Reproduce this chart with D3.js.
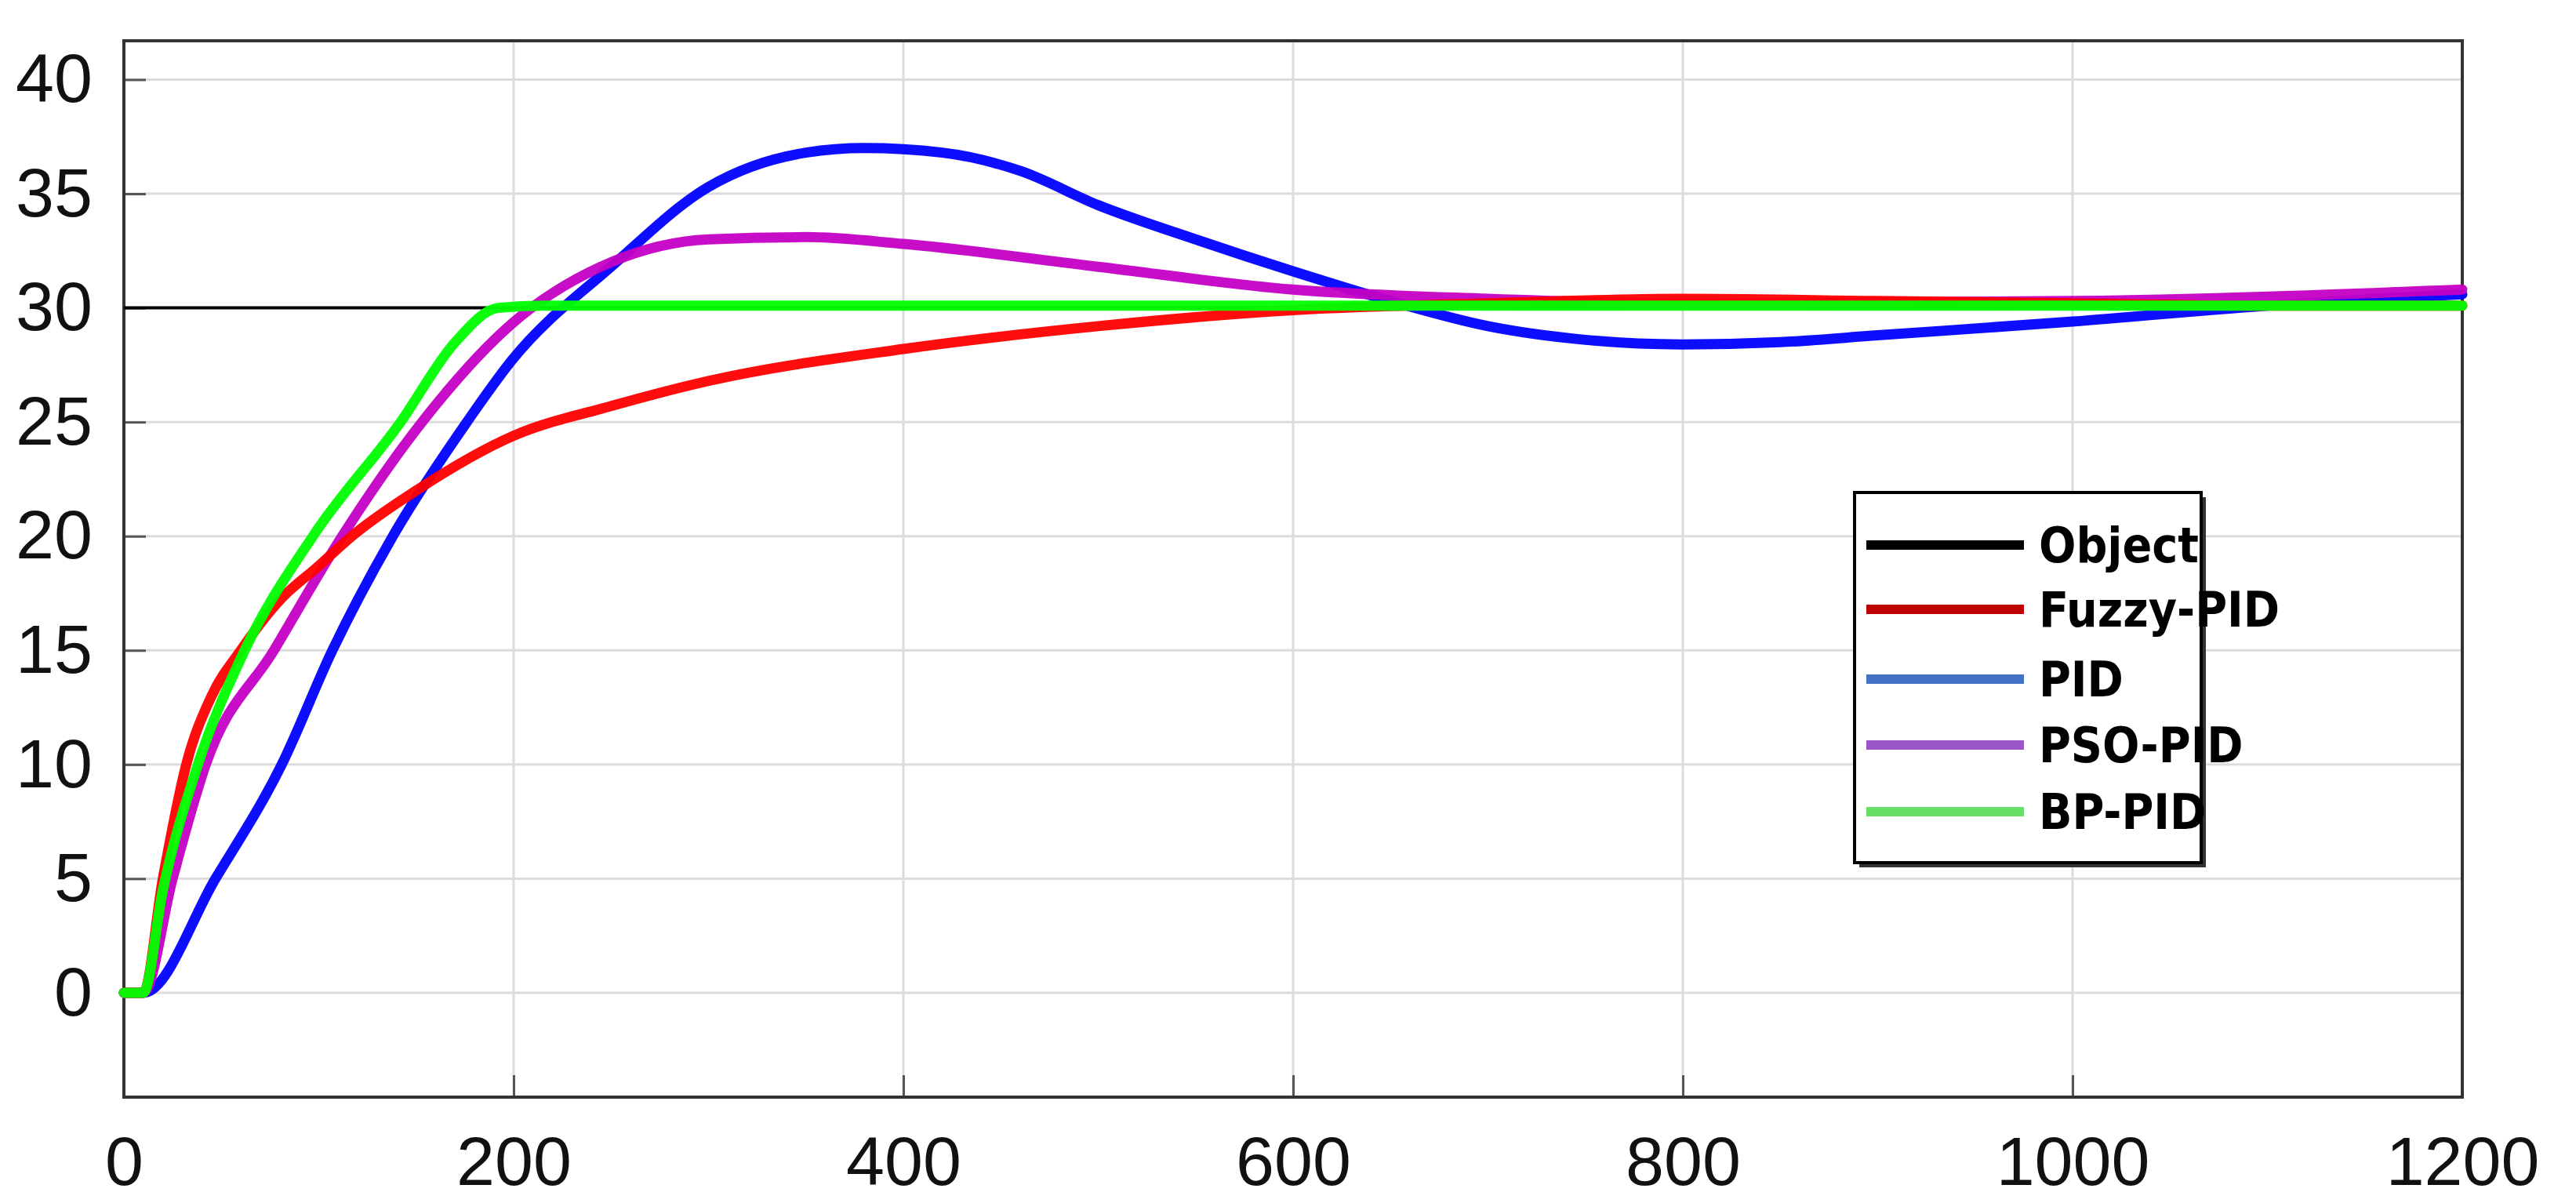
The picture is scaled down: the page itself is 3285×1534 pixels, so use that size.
<!DOCTYPE html>
<html><head><meta charset="utf-8">
<script src="https://cdn.jsdelivr.net/npm/d3@7"></script>
<style>body{margin:0;background:#fff}</style></head>
<body><svg id="c" width="3285" height="1534"></svg>
<script>
const xTicks=[0,200,400,600,800,1000,1200];
const yTicks=[0,5,10,15,20,25,30,35,40];
const objectRef=[[0,30],[1200,30]];
const fuzzyPID=[[0,0],[10,0],[20,5],[32,10],[45,13],[60,15],[80,17.2],[100,18.7],[117,20],[150,22],[200,24.4],[250,25.7],[300,26.8],[400,28.2],[500,29.2],[600,29.9],[700,30.2],[800,30.4],[900,30.3],[1000,30.2],[1100,30.1],[1200,30.1]];
const pid=[[0,0],[10,0],[47,5],[81,10],[107,15],[138,20],[176,25],[199,27.7],[250,31.8],[300,35.3],[350,36.8],[380,37],[420,36.8],[460,36],[500,34.5],[550,33],[600,31.6],[650,30.3],[700,29.2],[750,28.6],[800,28.4],[850,28.5],[900,28.8],[1000,29.4],[1100,30.1],[1200,30.6]];
const psoPID=[[0,0],[10,0],[25,5],[42,10],[77,15],[112,20],[153,25],[199,29.3],[250,32],[300,33],[350,33.1],[400,32.8],[500,31.8],[600,30.8],[700,30.4],[800,30.2],[1000,30.3],[1200,30.8]];
const bpPID=[[0,0],[10,0],[20,4.5],[38,10],[62,15],[97,20],[142,25],[170,28.5],[192,30],[215,30.1],[400,30.1],[800,30.1],[1200,30.1]];
const legendNames=["Object","Fuzzy-PID","PID","PSO-PID","BP-PID"];
const legendColors=["#000000","#c00000","#4472c4","#9b55c8","#66e066"];

const svg=d3.select("#c");
const L=158,R=3140,T=52,B=1399;
const x=d3.scaleLinear().domain([0,1200]).range([L,R]);
const y=d3.scaleLinear().domain([-4.57,41.7]).range([B,T]);
const g=svg.append("g");
g.selectAll(".gx").data(xTicks).join("line").attr("x1",d=>x(d)).attr("x2",d=>x(d)).attr("y1",T).attr("y2",B).attr("stroke","#dcdcdc").attr("stroke-width",3);
g.selectAll(".gy").data(yTicks).join("line").attr("y1",d=>y(d)).attr("y2",d=>y(d)).attr("x1",L).attr("x2",R).attr("stroke","#dcdcdc").attr("stroke-width",3);
const xa=svg.append("g").attr("transform",`translate(0,${B})`).call(d3.axisBottom(x).tickValues(xTicks).tickSize(-28).tickPadding(50).tickFormat(d3.format("d")));
const ya=svg.append("g").attr("transform",`translate(${L},0)`).call(d3.axisLeft(y).tickValues(yTicks).tickSize(-28).tickPadding(40));
[xa,ya].forEach(a=>{a.select(".domain").remove();a.selectAll("line").attr("stroke","#555").attr("stroke-width",3);a.selectAll("text").attr("font-family","Liberation Sans, Arial").attr("font-size",88).attr("fill","#111");});
xa.selectAll("text").attr("dy","0.71em");
svg.append("rect").attr("x",L).attr("y",T).attr("width",R-L).attr("height",B-T).attr("fill","none").attr("stroke","#333").attr("stroke-width",4);
const line=d3.line().x(d=>x(d[0])).y(d=>y(d[1])).curve(d3.curveMonotoneX);
svg.append("path").datum(objectRef).attr("d",line).attr("fill","none").attr("stroke","#000").attr("stroke-width",4);
[[pid,"#0000ff"],[psoPID,"#c400c4"],[fuzzyPID,"#ff0000"],[bpPID,"#00ff00"]].forEach(([d,c])=>{
 svg.append("path").datum(d).attr("d",line).attr("fill","none").attr("stroke",c).attr("stroke-width",13).attr("stroke-linejoin","round").attr("stroke-linecap","round").attr("opacity",0.95);
});
const lg=svg.append("g");
lg.append("rect").attr("x",2371).attr("y",634).attr("width",442).attr("height",472).attr("fill","#333");
lg.append("rect").attr("x",2365).attr("y",628).attr("width",442).attr("height",472).attr("fill","#fff").attr("stroke","#000").attr("stroke-width",4);
const rows=[695,777,866,950,1035];
legendNames.forEach((n,i)=>{
 lg.append("line").attr("x1",2380).attr("x2",2581).attr("y1",rows[i]).attr("y2",rows[i]).attr("stroke",legendColors[i]).attr("stroke-width",12);
 lg.append("text").attr("x",2600).attr("y",rows[i]).attr("dy","0.35em").text(n).attr("font-family","DejaVu Sans Condensed, Liberation Sans Narrow, sans-serif").attr("font-stretch","condensed").attr("font-weight","bold").attr("font-size",62).attr("fill","#000");
});
</script></body></html>
